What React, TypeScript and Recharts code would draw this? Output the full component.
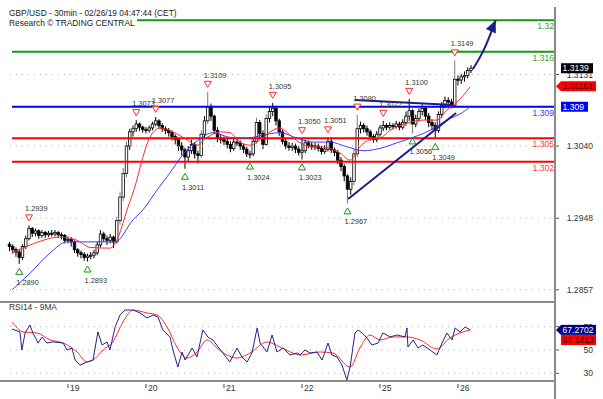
import React from "react";
import {
  Bar,
  ComposedChart,
  Line,
  ReferenceDot,
  ReferenceLine,
  Scatter,
  XAxis,
  YAxis,
} from "recharts";

// hourly bars, index 0 = Feb 18 ~05:30, 24 bars per day
const FIRST_OPEN = 1.2915;
const closes = [
  1.2912, 1.2908, 1.2905, 1.2898, 1.2912, 1.2922, 1.2935, 1.2929, 1.2932, 1.2926,
  1.293, 1.2927, 1.2929, 1.2928, 1.293, 1.2927, 1.2926, 1.292, 1.2921, 1.2918,
  1.2908, 1.2904, 1.2902, 1.2898, 1.29, 1.2901, 1.2904, 1.2914, 1.2928, 1.2922,
  1.292, 1.2924, 1.2918, 1.2945, 1.2975, 1.3005, 1.304, 1.3058, 1.3062, 1.3068,
  1.3064, 1.3061, 1.306, 1.3063, 1.3068, 1.3072, 1.3066, 1.3062, 1.306, 1.3057,
  1.3052, 1.3048, 1.304, 1.3035, 1.3026, 1.3034, 1.3042, 1.303, 1.3028, 1.3055,
  1.3072, 1.309, 1.3078, 1.306, 1.305, 1.3048, 1.3046, 1.3042, 1.3037, 1.3045,
  1.3044, 1.304, 1.3036, 1.303, 1.303, 1.3046, 1.307, 1.3056, 1.3042, 1.3075,
  1.3084, 1.3088, 1.3072, 1.3058, 1.3046, 1.304, 1.3038, 1.304, 1.3036, 1.3032,
  1.3034, 1.3044, 1.3041, 1.3039, 1.304, 1.3037, 1.3033, 1.3036, 1.3046, 1.3035,
  1.3032, 1.3022, 1.3014, 1.3002, 1.2985, 1.2995, 1.303, 1.3062, 1.3066, 1.3062,
  1.3058, 1.3052, 1.3048, 1.3055, 1.3063, 1.3066, 1.3064, 1.3066, 1.3065, 1.3068,
  1.3064, 1.307, 1.3078, 1.3085, 1.3068, 1.3075, 1.3084, 1.3088, 1.3078, 1.307,
  1.3066, 1.306, 1.308, 1.3092, 1.3098, 1.3096, 1.3092, 1.3125, 1.3124, 1.3128,
  1.313, 1.3136, 1.3139,
];
const highs = [
  1.2918, 1.2915, 1.2911, 1.2908, 1.2915, 1.2926, 1.2939, 1.2937, 1.2935, 1.2934,
  1.2933, 1.2932, 1.2932, 1.2933, 1.2933, 1.2932, 1.293, 1.2928, 1.2925, 1.2924,
  1.292, 1.291, 1.2907, 1.2905, 1.2903, 1.2905, 1.2908, 1.2918, 1.2933, 1.2931,
  1.2926, 1.2928, 1.2926, 1.295, 1.2982, 1.3012, 1.3046, 1.3062, 1.3066, 1.3073,
  1.307, 1.3066, 1.3064, 1.3066, 1.3071, 1.3077, 1.3074, 1.3069, 1.3065, 1.3063,
  1.306, 1.3055, 1.3051, 1.3045, 1.3038, 1.304, 1.3048, 1.3045, 1.3034, 1.306,
  1.3078, 1.3109, 1.3094, 1.308, 1.3064, 1.3055, 1.3052, 1.305, 1.3046, 1.3049,
  1.305, 1.3047, 1.3043, 1.3039, 1.3034, 1.305, 1.3076, 1.3073, 1.306, 1.308,
  1.3089, 1.3095, 1.3091, 1.3075, 1.3061, 1.305, 1.3045, 1.3044, 1.3043, 1.304,
  1.305, 1.3048, 1.3047, 1.3045, 1.3044, 1.3043, 1.304, 1.3041, 1.3051, 1.3049,
  1.3038, 1.3035, 1.3026, 1.3017, 1.3005, 1.3, 1.3036, 1.308, 1.3071, 1.3069,
  1.3066, 1.3061, 1.3055, 1.3059, 1.3067, 1.3072, 1.3069, 1.307, 1.3069, 1.3072,
  1.3071, 1.3074, 1.3084, 1.31, 1.3088, 1.308, 1.3088, 1.3093, 1.3091, 1.3082,
  1.3074, 1.307, 1.3084, 1.3096, 1.3103, 1.3102, 1.31, 1.3149, 1.313, 1.3132,
  1.3135, 1.314, 1.3143,
];
const lows = [
  1.2906, 1.2903, 1.2899, 1.289, 1.2895, 1.2909, 1.292, 1.2924, 1.2925, 1.2922,
  1.2923, 1.2923, 1.2924, 1.2925, 1.2925, 1.2923, 1.2921, 1.2916, 1.2916, 1.2912,
  1.2904, 1.2899, 1.2897, 1.2894, 1.2893, 1.2896, 1.2897, 1.2901, 1.2911, 1.2918,
  1.2914, 1.2916, 1.291, 1.2915, 1.294, 1.297, 1.3, 1.3035, 1.3052, 1.3058,
  1.3059, 1.3057, 1.3056, 1.3057, 1.306, 1.3065, 1.3062, 1.3058, 1.3055, 1.3052,
  1.3047, 1.3042, 1.3034, 1.3028, 1.3011, 1.302, 1.303, 1.3024, 1.3018, 1.3025,
  1.305, 1.3068, 1.3072, 1.3055, 1.3045, 1.3043, 1.3041, 1.3037, 1.3032, 1.3034,
  1.304, 1.3035, 1.3031, 1.3026, 1.3024, 1.3027, 1.3043, 1.305, 1.3036, 1.304,
  1.307, 1.3078, 1.3066, 1.3053, 1.3042, 1.3036, 1.3034, 1.3034, 1.3031, 1.3028,
  1.3023, 1.3031, 1.3037, 1.3035, 1.3035, 1.3033, 1.3029, 1.303, 1.3033, 1.3031,
  1.3027, 1.3017, 1.3008, 1.2995, 1.2967, 1.2978, 1.299, 1.3026, 1.3056, 1.3057,
  1.3053, 1.3047, 1.3044, 1.3045, 1.3052, 1.3059, 1.306, 1.3061, 1.3061, 1.3062,
  1.306, 1.3061, 1.3066, 1.3072, 1.3056, 1.3064, 1.3071, 1.3079, 1.3073, 1.3064,
  1.306, 1.3049, 1.3057, 1.3076, 1.3088, 1.309, 1.3088, 1.309, 1.3117, 1.3119,
  1.3122, 1.3126, 1.3133,
];

const maRedX = [0.8, 6.3, 15.5, 20.8, 24.8, 30.9, 33, 36.2, 39.2, 40.2, 43.2, 46.3, 50.3, 54.6, 57.7, 60.8, 64.8, 67.8, 70.9, 74, 77.1, 80.2, 83.2, 86.3, 89.4, 92.5, 95.5, 98.6, 101.7, 104.8, 107.8, 110.9, 114, 117.1, 122.3, 127.2, 131.5, 134.6, 137.7, 141.7];
const maRedY = [1.2904, 1.2914, 1.2924, 1.292, 1.2911, 1.291, 1.292, 1.2959, 1.2997, 1.3013, 1.3051, 1.3063, 1.3058, 1.3048, 1.3041, 1.3051, 1.3058, 1.3057, 1.3045, 1.3041, 1.3048, 1.3058, 1.3063, 1.3054, 1.3044, 1.3039, 1.3039, 1.3037, 1.3031, 1.3022, 1.3039, 1.3048, 1.305, 1.306, 1.3069, 1.3073, 1.3073, 1.3086, 1.3096, 1.3115];
const maBlueX = [0.8, 6.3, 12.5, 17.7, 22.6, 27.8, 32.5, 38, 41.1, 45.4, 48.5, 54.6, 58.6, 62.6, 67.8, 73.1, 78, 83.2, 88.5, 93.4, 98.6, 103.8, 109, 114, 119.2, 124.2, 129.4, 134.6, 139.5, 141.7];
const maBlueY = [1.2857, 1.2878, 1.2904, 1.2918, 1.2918, 1.2918, 1.2918, 1.2946, 1.2959, 1.2984, 1.3001, 1.3035, 1.3049, 1.3057, 1.3051, 1.305, 1.3054, 1.3057, 1.305, 1.3045, 1.3045, 1.3039, 1.3034, 1.3037, 1.3044, 1.3051, 1.306, 1.3073, 1.3083, 1.309];

const rsiX = [0.8, 3.2, 3.8, 4.8, 6.3, 7.2, 8.8, 10, 11.5, 13.4, 16.5, 17.7, 19.2, 20.2, 21.7, 23.8, 25.7, 27.2, 28.5, 30, 30.9, 32.5, 34, 35.5, 38, 40.2, 42.3, 44.2, 45.7, 47.2, 49.4, 50.3, 51.8, 53.1, 54, 56.2, 57.7, 59.5, 61.1, 62.6, 64.2, 67.8, 70, 71.5, 73.1, 74.6, 76.2, 77.1, 79.2, 80.8, 82.3, 84.2, 86.3, 88.5, 89.4, 90.9, 92.5, 94.6, 96.2, 98, 99.2, 100.8, 102.3, 103.8, 104.8, 106.3, 107.2, 108.5, 110, 111.5, 113.4, 114.9, 117.1, 119.2, 121.7, 122.3, 122.6, 124.2, 125.7, 127.2, 129.4, 131.5, 133.1, 134.6, 136.2, 137.1, 138.6, 140.2, 141.7];
const rsiV = [68, 65.5, 50, 64.6, 71.5, 64.6, 56, 61, 56, 57, 56, 50, 51.7, 41.4, 37, 39.7, 41.4, 65.5, 54.3, 56.9, 50, 69.7, 80, 84.3, 84.3, 81.8, 77.5, 80, 78.3, 67.2, 61, 50, 35.4, 48.3, 41.4, 51.7, 44, 67.2, 61, 58.6, 52.6, 39.7, 51.7, 44, 39.7, 47.4, 68.9, 56, 48.3, 62.9, 48.3, 51.7, 45.7, 47.4, 45.7, 50, 47.4, 48.3, 41.4, 56, 45.7, 44, 37.1, 24.2, 35.4, 64.6, 67.2, 64.6, 60.3, 54.3, 56, 64.6, 61.2, 62.9, 61.2, 68.9, 52.6, 58.6, 51.7, 54.3, 50, 45.7, 56, 64.6, 58.6, 68.9, 65.5, 69.7, 67.3];
const rsiMaX = [0.8, 4.2, 8.5, 12.5, 16.5, 20.8, 23.8, 25.7, 28.8, 31.8, 34.9, 38, 42.3, 45.4, 48.5, 51.5, 54.6, 57.7, 60.8, 63.8, 66.9, 70, 74, 79.2, 83.2, 87.2, 89.4, 95.5, 99.5, 104.8, 107.8, 110.9, 114, 118, 122.3, 126.3, 131.5, 135.5, 138.6, 141.7];
const rsiMaV = [74, 65.5, 64.6, 58.6, 56, 48.3, 39.7, 41.4, 50, 56.9, 74, 84.3, 81.8, 80, 69.7, 52.6, 43.1, 48.3, 58.6, 51.7, 45.7, 43.1, 47.4, 56.9, 52.6, 47.4, 45.7, 48.3, 47.4, 35.4, 51.7, 62.9, 58.6, 61.2, 61.2, 58.6, 50.9, 60.3, 64.6, 67.1];

const pivotHighX = [6, 39, 45, 61, 81, 90, 98, 107, 115, 123, 137];
const pivotHighP = [1.2939, 1.3073, 1.3077, 1.3109, 1.3095, 1.305, 1.3051, 1.308, 1.3072, 1.31, 1.3149];
const pivotLowX = [3, 24, 54, 74, 90, 104, 124, 131];
const pivotLowP = [1.289, 1.2893, 1.3011, 1.3024, 1.3023, 1.2967, 1.3056, 1.3049];

const dayTicks = [18, 42, 66, 90, 114, 138];
const dayLabels = ["19", "20", "21", "22", "25", "26"];
const priceTicks = [1.2857, 1.2948, 1.304, 1.3131];
const rsiTicks = [30, 50, 70];
const levels = [1.32, 1.316, 1.309, 1.305, 1.302];
const levelNames = ["1.32", "1.316", "1.309", "1.305", "1.302"];

const resistance = [
  { x: 106.2, y: 1.30985 },
  { x: 136.5, y: 1.30922 },
];
const trendUp = [
  { x: 104.2, y: 1.29725 },
  { x: 137.4, y: 1.3082 },
];
const arrowX = [142.6, 146, 149.6];
const arrowY = [1.3138, 1.3163, 1.32];

const X_MIN = -2.923;
const X_MAX = 167.846;
const Y_MIN = 1.2844;
const Y_MAX = 1.32233;
const R_MIN = 23.39;
const R_MAX = 89.48;

const FONT = '"Liberation Sans", Arial, sans-serif';
const levelColor: Record<string, [string, string]> = {
  "1.32": ["#159a15", "#3c9c3c"],
  "1.316": ["#159a15", "#3c9c3c"],
  "1.309": ["#0000ff", "#3a3aff"],
  "1.305": ["#ff0000", "#ff3a3a"],
  "1.302": ["#ff0000", "#ff3a3a"],
};

const candles = closes.map((c, i) => ({
  x: i,
  open: i === 0 ? FIRST_OPEN : closes[i - 1],
  close: c,
  high: highs[i],
  low: lows[i],
  range: [lows[i], highs[i]],
}));
const pair = (xs: number[], ys: number[]) => xs.map((x, i) => ({ x, y: ys[i] }));
const maRed = pair(maRedX, maRedY);
const maBlue = pair(maBlueX, maBlueY);
const rsi = pair(rsiX, rsiV);
const rsiMa = pair(rsiMaX, rsiMaV);
const highPivots = pair(pivotHighX, pivotHighP);
const lowPivots = pair(pivotLowX, pivotLowP);
const arrow = pair(arrowX, arrowY);

function Candle(props: any) {
  const { x, y, width, height, payload } = props;
  if (!payload || height == null) return null;
  const { open, close, high, low } = payload;
  const span = high - low || 1e-9;
  const py = (p: number) => y + ((high - p) / span) * height;
  const cx = x + width / 2;
  const top = py(Math.max(open, close));
  const bot = py(Math.min(open, close));
  const up = close >= open;
  const wick = high - low > 0.003 ? "#7a7a7a" : "#000";
  return (
    <g>
      <line x1={cx} x2={cx} y1={y} y2={y + height} stroke={wick} strokeWidth={1} />
      <rect
        x={cx - 1.25}
        y={top}
        width={2.5}
        height={Math.max(1, bot - top)}
        fill={up ? "#fff" : "#000"}
        stroke="#000"
        strokeWidth={0.8}
      />
    </g>
  );
}

function HighMark(props: any) {
  const { cx, cy, payload } = props;
  return (
    <g>
      <polygon
        points={`${cx - 3.5},${cy - 10.5} ${cx + 3.5},${cy - 10.5} ${cx},${cy - 4.5}`}
        fill="#fff"
        stroke="#ff2a2a"
        strokeWidth={1}
      />
      <text x={cx - 4} y={cy - 14} fontSize={7.4} fontFamily={FONT} fill="#333">
        {payload.y.toFixed(4)}
      </text>
    </g>
  );
}

function LowMark(props: any) {
  const { cx, cy, payload } = props;
  return (
    <g>
      <polygon
        points={`${cx - 3.5},${cy + 10.5} ${cx + 3.5},${cy + 10.5} ${cx},${cy + 4.5}`}
        fill="#fff"
        stroke="#159a15"
        strokeWidth={1}
      />
      <text x={cx - 3} y={cy + 21} fontSize={7.4} fontFamily={FONT} fill="#333">
        {payload.y.toFixed(4)}
      </text>
    </g>
  );
}

function ArrowDot(props: any) {
  const { cx, cy, index } = props;
  if (index !== arrowX.length - 1) return <g key={index} />;
  return (
    <polygon
      key={index}
      points="0,0 -12,-5.5 -12,5.5"
      fill="#1c1c8c"
      transform={`translate(${cx},${cy}) rotate(-66)`}
    />
  );
}

function tag(text: string, bg: string, fg: string, w: number, pointer: boolean, dy = 0) {
  return (p: any) => {
    const cx = p.cx;
    const cy = p.cy + dy;
    return (
      <g>
        {pointer && (
          <polygon points={`${cx + 1},${cy} ${cx + 6},${cy - 5} ${cx + 6},${cy + 5}`} fill={bg} />
        )}
        <rect x={cx + 6} y={cy - 5} width={w} height={10} fill={bg} />
        <text x={cx + 7.5} y={cy + 3.2} fontSize={8.6} fontFamily={FONT} fill={fg}>
          {text}
        </text>
      </g>
    );
  };
}

function levelLabel(text: string, color: string) {
  return (p: any) => (
    <text x={p.cx - 1} y={p.cy + 9} textAnchor="end" fontSize={8.6} fontFamily={FONT} fill={color}>
      {text}
    </text>
  );
}

function RightTick(props: any) {
  const { x, y, payload, digits } = props;
  return (
    <text x={x + 32} y={y + 3} textAnchor="end" fontSize={8.6} fontFamily={FONT} fill="#333">
      {Number(payload.value).toFixed(digits)}
    </text>
  );
}

function DayTick(props: any) {
  const { x, y, payload, index } = props;
  return (
    <g>
      <line x1={x} x2={x} y1={y + 3} y2={y + 7} stroke="#444" />
      <text x={x + 2} y={y + 10} fontSize={8.6} fontFamily={FONT} fill="#333">
        {dayLabels[index] ?? String(payload.value)}
      </text>
    </g>
  );
}

const priceMargin = { top: 2, right: 0, bottom: 2, left: 0 };
const rsiMargin = { top: 2, right: 0, bottom: 0, left: 0 };

export default function App() {
  return (
    <div style={{ position: "absolute", left: 0, top: 0, width: 603, height: 399, background: "#fff" }}>
      <div style={{ position: "absolute", left: 0, top: 0 }}>
        <ComposedChart width={603} height={302} data={candles} margin={priceMargin}>
          <XAxis type="number" dataKey="x" domain={[X_MIN, X_MAX]} hide allowDataOverflow />
          <YAxis
            orientation="right"
            width={48}
            domain={[Y_MIN, Y_MAX]}
            ticks={priceTicks}
            interval={0}
            allowDataOverflow
            axisLine={false}
            tickLine={{ stroke: "#555" }}
            tickSize={4}
            tick={<RightTick digits={4} />}
          />
          {priceTicks.map((t) => (
            <ReferenceLine
              key={"g" + t}
              segment={[{ x: 0.15, y: t }, { x: X_MAX, y: t }]}
              stroke="#b4b4b4"
              strokeDasharray="1 5"
            />
          ))}
          {levels.map((lv, i) => (
            <ReferenceLine
              key={"l" + lv}
              segment={[{ x: 0.77, y: lv }, { x: X_MAX, y: lv }]}
              stroke={levelColor[levelNames[i]][0]}
              strokeWidth={2}
            />
          ))}
          <Bar dataKey="range" barSize={3} shape={<Candle />} isAnimationActive={false} />
          <Line data={maBlue} dataKey="y" type="monotone" stroke="#3c3cff" strokeWidth={1} dot={false} isAnimationActive={false} />
          <Line data={maRed} dataKey="y" type="monotone" stroke="#ff2a2a" strokeWidth={1} dot={false} isAnimationActive={false} />
          <ReferenceLine segment={resistance} stroke="#1c1c8c" strokeWidth={2} />
          <ReferenceLine segment={trendUp} stroke="#1c1c8c" strokeWidth={2} />
          <Line data={arrow} dataKey="y" type="monotone" stroke="#1c1c8c" strokeWidth={2} dot={<ArrowDot />} isAnimationActive={false} />
          <Scatter data={highPivots} dataKey="y" shape={<HighMark />} isAnimationActive={false} />
          <Scatter data={lowPivots} dataKey="y" shape={<LowMark />} isAnimationActive={false} />
          {levels.map((lv, i) => (
            <ReferenceDot
              key={"t" + lv}
              x={X_MAX}
              y={lv}
              r={0}
              ifOverflow="visible"
              shape={levelLabel(levelNames[i], levelColor[levelNames[i]][1])}
            />
          ))}
        </ComposedChart>
      </div>
      <div style={{ position: "absolute", left: 0, top: 302 }}>
        <ComposedChart width={603} height={97} margin={rsiMargin}>
          <XAxis
            type="number"
            dataKey="x"
            domain={[X_MIN, X_MAX]}
            allowDataOverflow
            ticks={dayTicks}
            interval={0}
            height={18}
            tickSize={0}
            tickMargin={0}
            axisLine={{ stroke: "#8a8a8a", strokeWidth: 2 }}
            tickLine={false}
            tick={<DayTick />}
          />
          <YAxis
            orientation="right"
            width={48}
            domain={[R_MIN, R_MAX]}
            ticks={rsiTicks}
            interval={0}
            allowDataOverflow
            axisLine={false}
            tickLine={{ stroke: "#555" }}
            tickSize={4}
            tick={<RightTick digits={0} />}
          />
          {rsiTicks.map((t) => (
            <ReferenceLine
              key={"r" + t}
              segment={[{ x: 0.15, y: t }, { x: X_MAX, y: t }]}
              stroke="#b4b4b4"
              strokeDasharray="1 5"
            />
          ))}
          <Line data={rsiMa} dataKey="y" type="monotone" stroke="#ff2a2a" strokeWidth={1} dot={false} isAnimationActive={false} />
          <Line data={rsi} dataKey="y" type="linear" stroke="#22228f" strokeWidth={1} dot={false} isAnimationActive={false} />
        </ComposedChart>
      </div>

      {/* value tags sit on top of the axis labels, as in the terminal */}
      <div style={{ position: "absolute", left: 0, top: 0, pointerEvents: "none" }}>
        <ComposedChart width={603} height={302} margin={priceMargin}>
          <XAxis type="number" dataKey="x" domain={[X_MIN, X_MAX]} hide allowDataOverflow />
          <YAxis orientation="right" width={48} domain={[Y_MIN, Y_MAX]} allowDataOverflow tick={false} axisLine={false} tickLine={false} />
          <ReferenceDot x={X_MAX} y={1.3139} r={0} ifOverflow="visible" shape={tag("1.3139", "#000", "#fff", 32, false)} />
          <ReferenceDot x={X_MAX} y={1.31161} r={0} ifOverflow="visible" shape={tag("1.31161", "#ff0000", "#2a0000", 35, true)} />
          <ReferenceDot x={X_MAX} y={1.309} r={0} ifOverflow="visible" shape={tag("1.309", "#0000ff", "#fff", 27, false)} />
        </ComposedChart>
      </div>
      <div style={{ position: "absolute", left: 0, top: 302, pointerEvents: "none" }}>
        <ComposedChart width={603} height={97} margin={rsiMargin}>
          <XAxis type="number" dataKey="x" domain={[X_MIN, X_MAX]} height={18} allowDataOverflow tick={false} axisLine={false} tickLine={false} />
          <YAxis orientation="right" width={48} domain={[R_MIN, R_MAX]} allowDataOverflow tick={false} axisLine={false} tickLine={false} />
          <ReferenceDot x={X_MAX} y={67.2702} r={0} ifOverflow="visible" shape={tag("67.2702", "#000080", "#fff", 35, true)} />
          <ReferenceDot x={X_MAX} y={67.1413} r={0} ifOverflow="visible" shape={tag("67.1413", "#ff0000", "#2a0000", 35, false, 10)} />
        </ComposedChart>
      </div>

      <div style={{ position: "absolute", left: 0, top: 301, width: 555, height: 2, background: "#8a8a8a" }} />
      <div style={{ position: "absolute", left: 554, top: 7, width: 2, height: 392, background: "#8a8a8a" }} />
      <div style={{ position: "absolute", left: 9, top: 302, fontFamily: FONT, fontSize: 8.4, color: "#333" }}>
        RSI14 - 9MA
      </div>
      <div style={{ position: "absolute", left: 9, top: 8, fontFamily: FONT, fontSize: 8.4, lineHeight: "10px", color: "#222" }}>
        <div>GBP/USD - 30min - 02/26/19 04:47:44 (CET)</div>
        <div style={{ display: "inline-block", background: "#fff", paddingRight: 2 }}>Research © TRADING CENTRAL</div>
      </div>
    </div>
  );
}
